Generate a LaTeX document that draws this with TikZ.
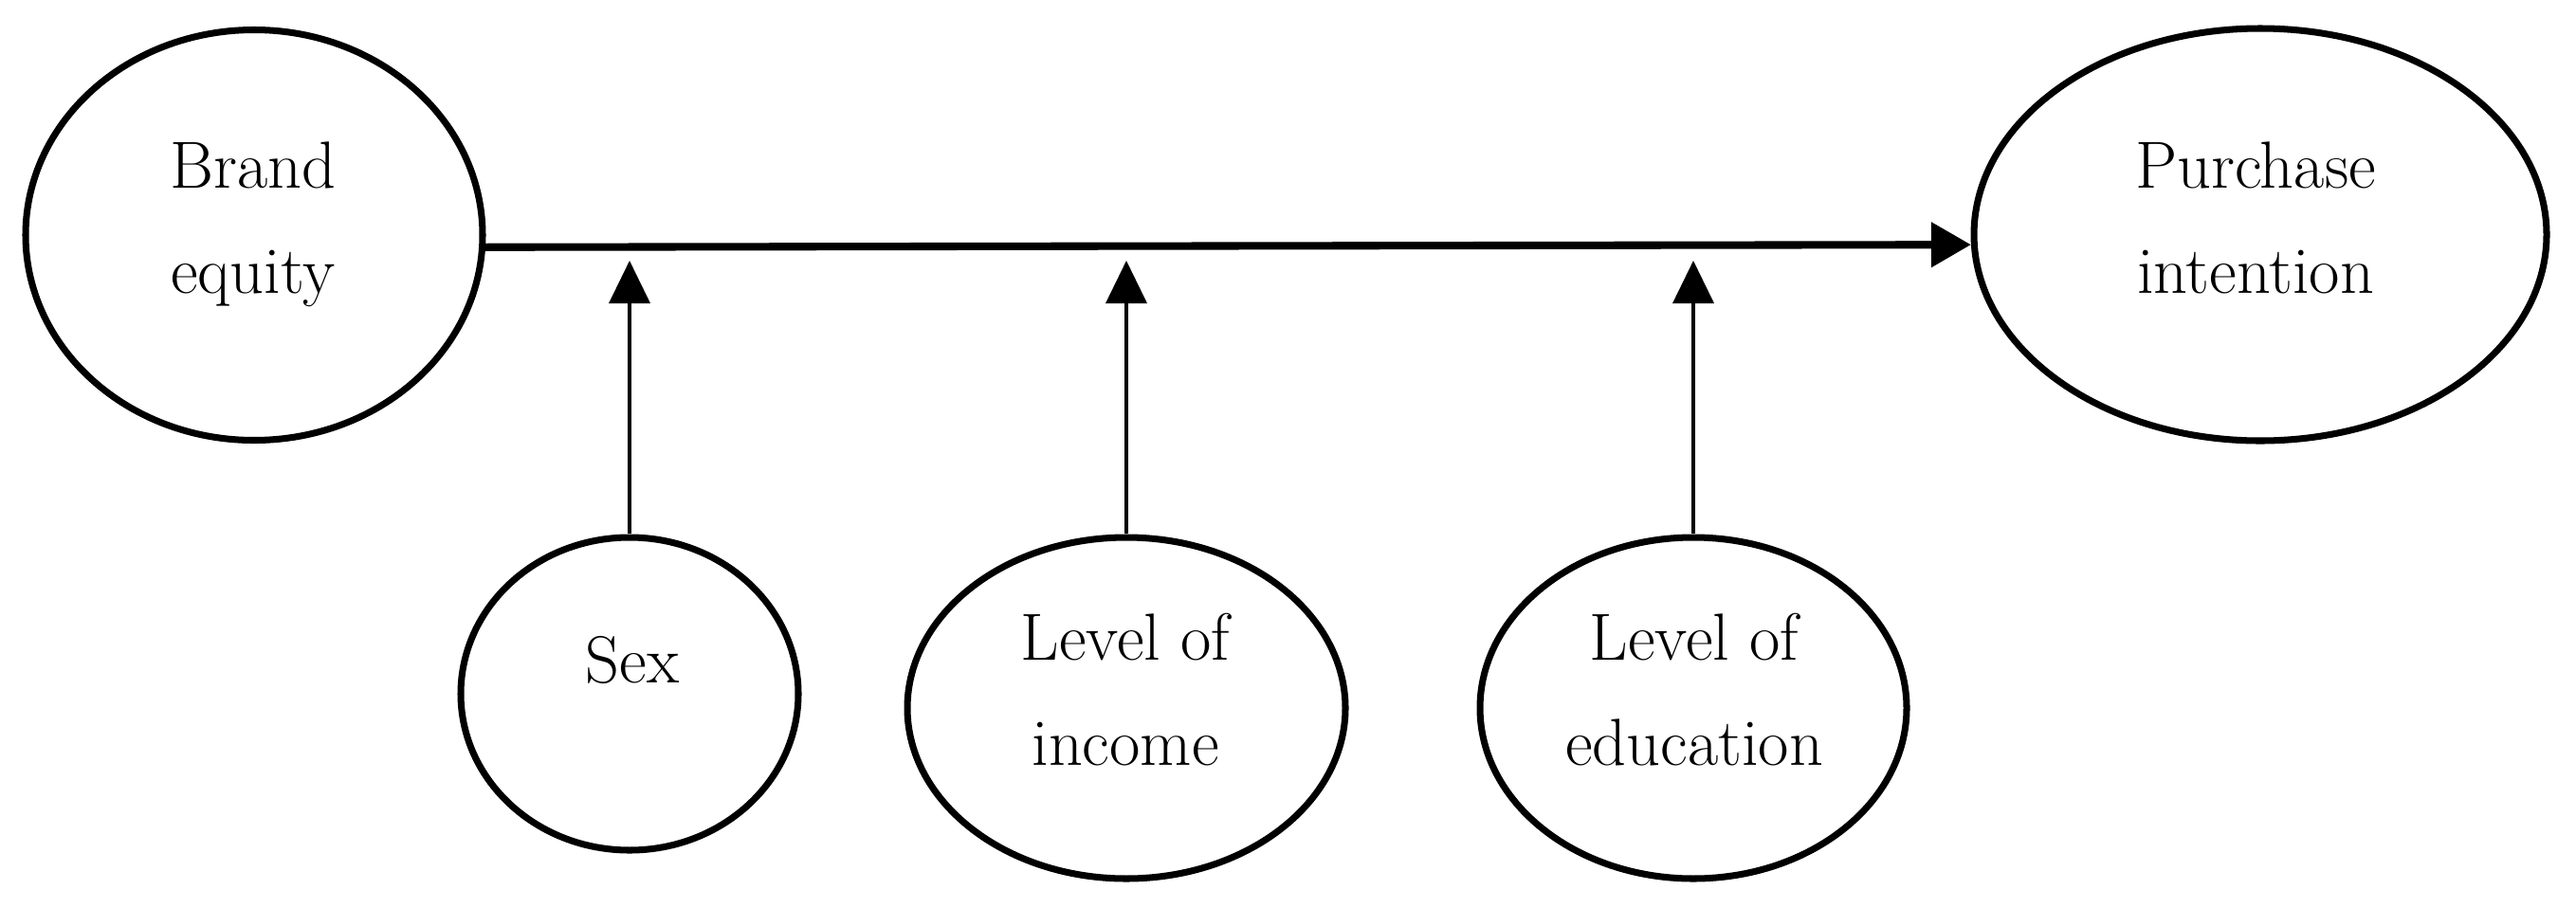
\documentclass[tikz,border=0pt]{standalone}
\usepackage{fontspec}
\usetikzlibrary{shapes.geometric,arrows.meta}
\begin{document}
\begin{tikzpicture}[
  ell/.style={draw=black, line width=2pt, ellipse, inner sep=0pt, fill=white},
  lbl/.style={inner sep=0pt, align=center, font=\fontsize{20}{31.6}\selectfont},
  mainarrow/.style={line width=2.3pt, -{Triangle[length=0.42cm,width=0.46cm]}},
  modarrow/.style={line width=1pt, -{Triangle[length=0.45cm,width=0.43cm]}}
]
\useasboundingbox (0,0) rectangle (27.17,9.57);
% ellipses
\node[ell, minimum width=4.82cm, minimum height=4.33cm] (be) at (2.68,7.09) {};
\node[ell, minimum width=6.04cm, minimum height=4.35cm] (pi) at (23.84,7.095) {};
\node[ell, minimum width=3.56cm, minimum height=3.30cm] (sex) at (6.64,2.25) {};
\node[ell, minimum width=4.62cm, minimum height=3.60cm] (inc) at (11.88,2.10) {};
\node[ell, minimum width=4.50cm, minimum height=3.60cm] (edu) at (17.86,2.10) {};
% texts
\node[lbl, anchor=north] (beT) at (2.67,8.08) {Brand\\equity};
\node[lbl, anchor=north] (piT) at (23.79,8.08) {Purchase\\intention};
\node[lbl, anchor=base] (sexT) at (6.67,2.37) {Sex};
\node[lbl, anchor=north] (incT) at (11.87,3.11) {Level of\\income};
\node[lbl, anchor=north] (eduT) at (17.87,3.11) {Level of\\education};
% connectors
\coordinate (tipline) at (0,6.82);
\draw[mainarrow] (be.-3.5) -- (pi.182.8);
\draw[modarrow] (sex.north) -- (sex.north |- tipline);
\draw[modarrow] (inc.north) -- (inc.north |- tipline);
\draw[modarrow] (edu.north) -- (edu.north |- tipline);
\end{tikzpicture}
\end{document}
